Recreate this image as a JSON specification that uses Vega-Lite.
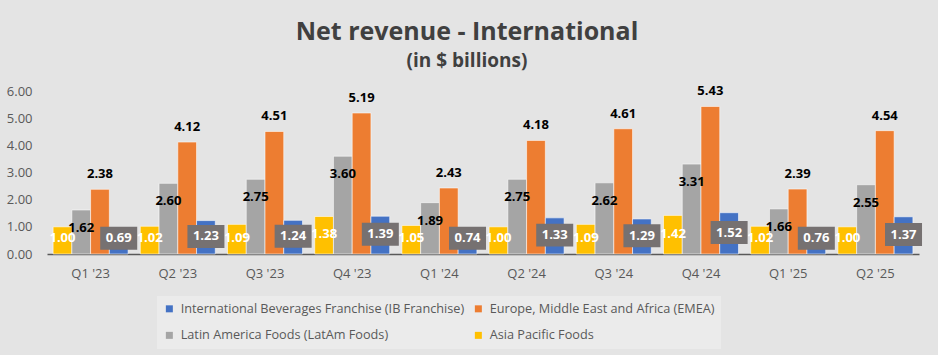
{
  "$schema": "https://vega.github.io/schema/vega-lite/v6.json",
  "width": 872,
  "height": 163,
  "autosize": {"type": "none"},
  "padding": {"left": 47, "top": 91, "right": 19, "bottom": 101},
  "background": "#e4e4e4",
  "title": {
    "text": "Net revenue - International",
    "subtitle": "(in $ billions)",
    "anchor": "middle",
    "dx": -16,
    "offset": 14,
    "font": "Open Sans",
    "fontSize": 25,
    "fontWeight": "bold",
    "color": "#404040",
    "subtitleFont": "Open Sans",
    "subtitleFontSize": 19,
    "subtitleFontWeight": "bold",
    "subtitleColor": "#404040",
    "subtitlePadding": 7
  },
  "config": {
    "view": {"stroke": null},
    "font": "Open Sans",
    "axis": {"labelFont": "Open Sans", "labelFontSize": 13, "labelColor": "#595959", "grid": false, "ticks": false, "title": null, "labelOverlap": false},
    "axisY": {"values": [0, 1, 2, 3, 4, 5, 6], "format": ".2f", "domain": false, "labelPadding": 15, "labelOverlap": false, "tickCount": 7}
  },
  "data": {
    "values": [
      {"quarter": "Q1 '23", "segment": "Asia Pacific Foods", "value": 1.00},
      {"quarter": "Q1 '23", "segment": "Latin America Foods (LatAm Foods)", "value": 1.62},
      {"quarter": "Q1 '23", "segment": "Europe, Middle East and Africa (EMEA)", "value": 2.38},
      {"quarter": "Q1 '23", "segment": "International Beverages Franchise (IB Franchise)", "value": 0.69},
      {"quarter": "Q2 '23", "segment": "Asia Pacific Foods", "value": 1.02},
      {"quarter": "Q2 '23", "segment": "Latin America Foods (LatAm Foods)", "value": 2.60},
      {"quarter": "Q2 '23", "segment": "Europe, Middle East and Africa (EMEA)", "value": 4.12},
      {"quarter": "Q2 '23", "segment": "International Beverages Franchise (IB Franchise)", "value": 1.23},
      {"quarter": "Q3 '23", "segment": "Asia Pacific Foods", "value": 1.09},
      {"quarter": "Q3 '23", "segment": "Latin America Foods (LatAm Foods)", "value": 2.75},
      {"quarter": "Q3 '23", "segment": "Europe, Middle East and Africa (EMEA)", "value": 4.51},
      {"quarter": "Q3 '23", "segment": "International Beverages Franchise (IB Franchise)", "value": 1.24},
      {"quarter": "Q4 '23", "segment": "Asia Pacific Foods", "value": 1.38},
      {"quarter": "Q4 '23", "segment": "Latin America Foods (LatAm Foods)", "value": 3.60},
      {"quarter": "Q4 '23", "segment": "Europe, Middle East and Africa (EMEA)", "value": 5.19},
      {"quarter": "Q4 '23", "segment": "International Beverages Franchise (IB Franchise)", "value": 1.39},
      {"quarter": "Q1 '24", "segment": "Asia Pacific Foods", "value": 1.05},
      {"quarter": "Q1 '24", "segment": "Latin America Foods (LatAm Foods)", "value": 1.89},
      {"quarter": "Q1 '24", "segment": "Europe, Middle East and Africa (EMEA)", "value": 2.43},
      {"quarter": "Q1 '24", "segment": "International Beverages Franchise (IB Franchise)", "value": 0.74},
      {"quarter": "Q2 '24", "segment": "Asia Pacific Foods", "value": 1.00},
      {"quarter": "Q2 '24", "segment": "Latin America Foods (LatAm Foods)", "value": 2.75},
      {"quarter": "Q2 '24", "segment": "Europe, Middle East and Africa (EMEA)", "value": 4.18},
      {"quarter": "Q2 '24", "segment": "International Beverages Franchise (IB Franchise)", "value": 1.33},
      {"quarter": "Q3 '24", "segment": "Asia Pacific Foods", "value": 1.09},
      {"quarter": "Q3 '24", "segment": "Latin America Foods (LatAm Foods)", "value": 2.62},
      {"quarter": "Q3 '24", "segment": "Europe, Middle East and Africa (EMEA)", "value": 4.61},
      {"quarter": "Q3 '24", "segment": "International Beverages Franchise (IB Franchise)", "value": 1.29},
      {"quarter": "Q4 '24", "segment": "Asia Pacific Foods", "value": 1.42},
      {"quarter": "Q4 '24", "segment": "Latin America Foods (LatAm Foods)", "value": 3.31},
      {"quarter": "Q4 '24", "segment": "Europe, Middle East and Africa (EMEA)", "value": 5.43},
      {"quarter": "Q4 '24", "segment": "International Beverages Franchise (IB Franchise)", "value": 1.52},
      {"quarter": "Q1 '25", "segment": "Asia Pacific Foods", "value": 1.02},
      {"quarter": "Q1 '25", "segment": "Latin America Foods (LatAm Foods)", "value": 1.66},
      {"quarter": "Q1 '25", "segment": "Europe, Middle East and Africa (EMEA)", "value": 2.39},
      {"quarter": "Q1 '25", "segment": "International Beverages Franchise (IB Franchise)", "value": 0.76},
      {"quarter": "Q2 '25", "segment": "Asia Pacific Foods", "value": 1.00},
      {"quarter": "Q2 '25", "segment": "Latin America Foods (LatAm Foods)", "value": 2.55},
      {"quarter": "Q2 '25", "segment": "Europe, Middle East and Africa (EMEA)", "value": 4.54},
      {"quarter": "Q2 '25", "segment": "International Beverages Franchise (IB Franchise)", "value": 1.37}
    ]
  },
  "transform": [
    {"calculate": "max(datum.value / 2 + 0.03, 0.58)", "as": "labelPos"}
  ],
  "encoding": {
    "x": {
      "field": "quarter",
      "type": "nominal",
      "sort": null,
      "scale": {"paddingInner": 0.14, "paddingOuter": 0.07},
      "axis": {"labelAngle": 0, "domainColor": "#595959", "domainWidth": 1.5, "labelPadding": 13}
    },
    "xOffset": {
      "field": "segment",
      "type": "nominal",
      "scale": {"domain": ["Asia Pacific Foods", "Latin America Foods (LatAm Foods)", "Europe, Middle East and Africa (EMEA)", "International Beverages Franchise (IB Franchise)"], "paddingInner": 0, "paddingOuter": 0}
    }
  },
  "layer": [
    {
      "mark": {"type": "bar", "stroke": "#ffffff", "strokeWidth": 0.8, "strokeOpacity": 0.7},
      "encoding": {
        "y": {
          "field": "value",
          "type": "quantitative",
          "scale": {"domain": [0, 6], "nice": false},
          "axis": {"values": [0, 1, 2, 3, 4, 5, 6], "format": ".2f", "domain": false, "labelPadding": 15, "labelOverlap": false}
        },
        "color": {
          "field": "segment",
          "type": "nominal",
          "scale": {
            "domain": ["International Beverages Franchise (IB Franchise)", "Europe, Middle East and Africa (EMEA)", "Latin America Foods (LatAm Foods)", "Asia Pacific Foods"],
            "range": ["#4472C4", "#ED7D31", "#A5A5A5", "#FFC000"]
          },
          "legend": {
            "title": null,
            "orient": "none",
            "legendX": 110,
            "legendY": 205,
            "direction": "horizontal",
            "columns": 2,
            "gridAlign": "all",
            "columnPadding": 7,
            "rowPadding": 13,
            "padding": 6,
            "fillColor": "#ebebeb",
            "symbolType": "square",
            "symbolSize": 49,
            "symbolStrokeWidth": 0,
            "symbolOffset": 0,
            "labelOffset": 5,
            "labelFont": "Open Sans",
            "labelFontSize": 12.7,
            "labelColor": "#595959",
            "labelLimit": 400
          }
        }
      }
    },
    {
      "transform": [{"filter": "datum.segment === 'Europe, Middle East and Africa (EMEA)'"}],
      "mark": {"type": "text", "dy": -15, "font": "Open Sans", "fontSize": 13, "fontWeight": "bold", "color": "#000000"},
      "encoding": {
        "y": {"field": "value", "type": "quantitative", "axis": {"values": [0, 1, 2, 3, 4, 5, 6], "format": ".2f", "domain": false, "labelPadding": 15, "labelOverlap": false}},
        "text": {"field": "value", "type": "quantitative", "format": ".2f"}
      }
    },
    {
      "transform": [{"filter": "datum.segment === 'Latin America Foods (LatAm Foods)'"}],
      "mark": {"type": "text", "dy": 18, "font": "Open Sans", "fontSize": 13, "fontWeight": "bold", "color": "#000000"},
      "encoding": {
        "y": {"field": "value", "type": "quantitative", "axis": {"values": [0, 1, 2, 3, 4, 5, 6], "format": ".2f", "domain": false, "labelPadding": 15, "labelOverlap": false}},
        "text": {"field": "value", "type": "quantitative", "format": ".2f"}
      }
    },
    {
      "transform": [{"filter": "datum.segment === 'Asia Pacific Foods'"}],
      "mark": {"type": "text", "font": "Open Sans", "fontSize": 13, "fontWeight": "bold", "color": "#ffffff"},
      "encoding": {
        "y": {"field": "labelPos", "type": "quantitative", "axis": {"values": [0, 1, 2, 3, 4, 5, 6], "format": ".2f", "domain": false, "labelPadding": 15, "labelOverlap": false}},
        "text": {"field": "value", "type": "quantitative", "format": ".2f"}
      }
    },
    {
      "transform": [{"filter": "datum.segment === 'International Beverages Franchise (IB Franchise)'"}],
      "mark": {"type": "point", "shape": "M-1,-0.62H1V0.62H-1Z", "size": 1369, "filled": true, "fill": "#767171", "opacity": 1, "strokeWidth": 0},
      "encoding": {
        "y": {"field": "labelPos", "type": "quantitative", "axis": {"values": [0, 1, 2, 3, 4, 5, 6], "format": ".2f", "domain": false, "labelPadding": 15, "labelOverlap": false}}
      }
    },
    {
      "transform": [{"filter": "datum.segment === 'International Beverages Franchise (IB Franchise)'"}],
      "mark": {"type": "text", "font": "Open Sans", "fontSize": 13, "fontWeight": "bold", "color": "#ffffff"},
      "encoding": {
        "y": {"field": "labelPos", "type": "quantitative", "axis": {"values": [0, 1, 2, 3, 4, 5, 6], "format": ".2f", "domain": false, "labelPadding": 15, "labelOverlap": false}},
        "text": {"field": "value", "type": "quantitative", "format": ".2f"}
      }
    }
  ]
}
